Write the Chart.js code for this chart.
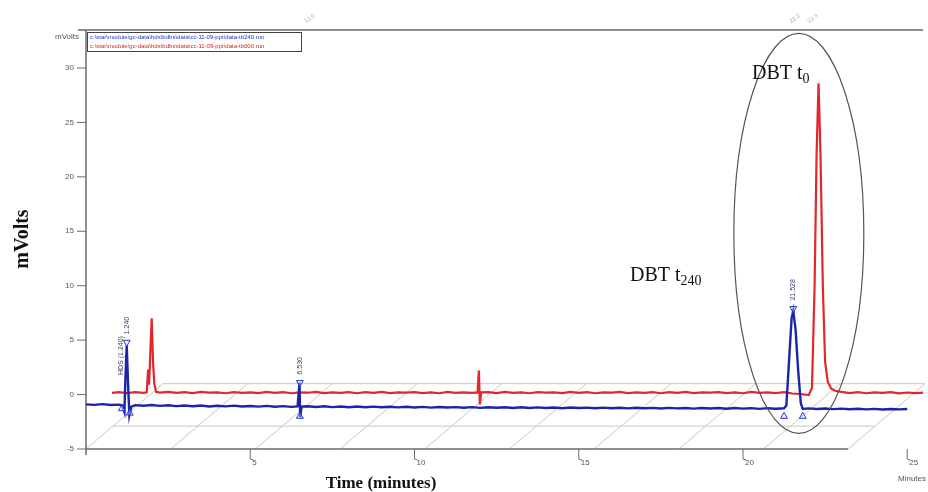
<!DOCTYPE html>
<html>
<head>
<meta charset="utf-8">
<script src="https://cdn.jsdelivr.net/npm/chart.js@4.4.1/dist/chart.umd.min.js"></script>
<style>
body { margin: 0; background: #fff; }
#wrap { width: 928px; height: 492px; position: relative; }
</style>
</head>
<body>
<div id="wrap"><canvas id="myChart"></canvas></div>
<script>
// blue trace (t240 run), time in minutes / mVolts
var blueTime = [0.00, 0.25, 0.50, 0.75, 1.00, 1.10, 1.17, 1.20, 1.24, 1.28, 1.32, 1.38,
    1.50, 1.75, 2.00, 2.25, 2.50, 2.75, 3.00, 3.25, 3.50, 3.75, 4.00, 4.25, 4.50, 4.75,
    5.00, 5.25, 5.50, 5.75, 6.00, 6.25, 6.44, 6.50, 6.52, 6.56, 6.75,
    7.00, 7.25, 7.50, 7.75, 8.00, 8.25, 8.50, 8.75, 9.00, 9.25, 9.50, 9.75,
    10.00, 10.25, 10.50, 10.75, 11.00, 11.25, 11.50, 11.75, 12.00, 12.25, 12.50, 12.75,
    13.00, 13.25, 13.50, 13.75, 14.00, 14.25, 14.50, 14.75, 15.00, 15.25, 15.50, 15.75,
    16.00, 16.25, 16.50, 16.75, 17.00, 17.25, 17.50, 17.75, 18.00, 18.25, 18.50, 18.75,
    19.00, 19.25, 19.50, 19.75, 20.00, 20.25, 20.50, 20.75, 21.00, 21.25,
    21.32, 21.40, 21.48, 21.53, 21.60, 21.68, 21.76, 21.82,
    22.00, 22.25, 22.50, 22.75, 23.00, 23.25, 23.50, 23.75, 24.00, 24.25, 24.50, 24.75, 25.00];
var blueValue = [-0.90, -0.95, -0.88, -0.96, -0.92, -0.98, -1.60, 1.50, 4.50, 1.00, -1.90, -1.10,
    -0.97, -1.03, -0.96, -1.04, -0.98, -1.06, -1.00, -1.07, -1.01, -1.09, -1.03, -1.08, -1.02, -1.10,
    -1.05, -1.11, -1.04, -1.12, -1.06, -1.13, -1.08, 1.10, -2.10, -1.10, -1.07,
    -1.14, -1.08, -1.15, -1.09, -1.16, -1.10, -1.17, -1.11, -1.16, -1.12, -1.18, -1.12,
    -1.19, -1.13, -1.20, -1.14, -1.19, -1.15, -1.21, -1.15, -1.22, -1.16, -1.21, -1.17,
    -1.23, -1.17, -1.24, -1.18, -1.23, -1.19, -1.25, -1.19, -1.24, -1.20, -1.26, -1.20,
    -1.25, -1.21, -1.27, -1.21, -1.26, -1.22, -1.28, -1.22, -1.27, -1.23, -1.29, -1.23,
    -1.28, -1.24, -1.30, -1.24, -1.29, -1.25, -1.31, -1.25, -1.30, -1.26,
    -1.00, 3.00, 7.00, 7.70, 6.00, 2.20, -0.80, -1.32,
    -1.27, -1.33, -1.28, -1.34, -1.29, -1.35, -1.30, -1.36, -1.31, -1.37, -1.32, -1.36, -1.33];

// red trace (t0 run), drawn shifted back in the 3D view
var redTime = [0.79, 1.00, 1.25, 1.50, 1.75, 1.85, 1.89, 1.92, 1.96, 2.00, 2.04, 2.08, 2.13,
    2.25, 2.50, 2.75, 3.00, 3.25, 3.50, 3.75, 4.00, 4.25, 4.50, 4.75, 5.00, 5.25, 5.50, 5.75,
    6.00, 6.25, 6.50, 6.75, 7.00, 7.25, 7.50, 7.75, 8.00, 8.25, 8.50, 8.75, 9.00, 9.25, 9.50, 9.75,
    10.00, 10.25, 10.50, 10.75, 11.00, 11.25, 11.50, 11.75,
    11.92, 11.96, 11.99, 12.03,
    12.25, 12.50, 12.75, 13.00, 13.25, 13.50, 13.75, 14.00, 14.25, 14.50, 14.75, 15.00, 15.25,
    15.50, 15.75, 16.00, 16.25, 16.50, 16.75, 17.00, 17.25, 17.50, 17.75, 18.00, 18.25, 18.50,
    18.75, 19.00, 19.25, 19.50, 19.75, 20.00, 20.25, 20.50, 20.75, 21.00, 21.25, 21.50, 21.75,
    22.00, 22.10, 22.18, 22.24, 22.30, 22.36, 22.43, 22.50, 22.58, 22.68, 22.80,
    23.00, 23.25, 23.50, 23.75, 24.00, 24.25, 24.50, 24.75, 25.00, 25.25, 25.48];
var redValue = [0.15, 0.22, 0.14, 0.23, 0.16, 0.20, 2.30, 0.90, 4.00, 7.00, 3.00, 1.00, 0.25,
    0.18, 0.25, 0.15, 0.22, 0.13, 0.24, 0.17, 0.21, 0.12, 0.23, 0.16, 0.20, 0.13, 0.24, 0.15,
    0.22, 0.12, 0.21, 0.17, 0.25, 0.14, 0.20, 0.16, 0.23, 0.12, 0.22, 0.15, 0.24, 0.13, 0.20, 0.17,
    0.23, 0.14, 0.21, 0.12, 0.24, 0.16, 0.20, 0.15,
    0.20, 2.20, -0.90, 0.20,
    0.22, 0.14, 0.25, 0.16, 0.21, 0.12, 0.23, 0.17, 0.20, 0.13, 0.24, 0.15, 0.22,
    0.12, 0.21, 0.18, 0.24, 0.14, 0.20, 0.16, 0.23, 0.12, 0.22, 0.15, 0.25, 0.13,
    0.20, 0.17, 0.23, 0.14, 0.21, 0.12, 0.24, 0.16, 0.20, 0.13, 0.22, 0.10, 0.05,
    -0.05, 0.60, 10.0, 22.0, 28.6, 22.0, 10.0, 3.00, 1.20, 0.55, 0.35,
    0.25, 0.14, 0.22, 0.12, 0.20, 0.15, 0.23, 0.11, 0.19, 0.14, 0.18];

// peak start/top/end markers on the blue run
var markerTime = [1.09, 1.24, 1.33, 6.51, 6.51, 21.25, 21.53, 21.82];
var markerValue = [-1.3, 4.8, -1.7, 1.1, -2.0, -2.0, 7.9, -2.0];
var markerRotation = [0, 180, 0, 180, 0, 0, 180, 0];

var peakTime = [1.24, 6.51, 21.53];
var peakLabel = ['1.240', '6.530', '21.528'];

var yTicks = [30, 25, 20, 15, 10, 5, 0, -5];
var xTicks = [5, 10, 15, 20, 25];

function pts(t, v) {
    return t.map(function(x, i) { return { x: x, y: v[i] }; });
}

function line(ctx, ax, ay, bx, by) {
    ctx.beginPath();
    ctx.moveTo(ax, ay);
    ctx.lineTo(bx, by);
    ctx.stroke();
}

var decor = {
    id: 'decor',
    beforeDatasetsDraw: function(chart) {
        var ctx = chart.ctx, xs = chart.scales.x, ys = chart.scales.y;
        var x0 = xs.getPixelForValue(0), x1 = xs.getPixelForValue(23.2);
        var yF = ys.getPixelForValue(-5), yB = ys.getPixelForValue(1.0), yM = ys.getPixelForValue(-2.9);
        var depth = 77;
        ctx.save();
        // 3D floor
        ctx.strokeStyle = '#c8c8c8';
        ctx.lineWidth = 1;
        for (var k = 0; k <= 9; k++) {
            var fx = x0 + (x1 - x0) * k / 9;
            line(ctx, fx, yF, fx + depth, yB);
        }
        line(ctx, x0 + depth, yB, x1 + depth, yB);
        var f = (yF - yM) / (yF - yB);
        line(ctx, x0 + depth * f, yM, x1 + depth * f, yM);

        // axes
        ctx.strokeStyle = '#6a6a6a';
        ctx.lineWidth = 1.5;
        var top = chart.chartArea.top;
        line(ctx, x0, top, x0, yF + 6);
        line(ctx, x0 - 8, top, chart.chartArea.right, top);
        line(ctx, x0, yF, x1, yF);

        ctx.lineWidth = 1;
        ctx.fillStyle = '#555';
        ctx.font = '8px "Liberation Sans"';
        ctx.textAlign = 'right';
        ctx.textBaseline = 'middle';
        yTicks.forEach(function(v) {
            var py = ys.getPixelForValue(v);
            line(ctx, x0 - 9, py, x0, py);
            ctx.fillText(String(v), x0 - 12, py);
        });
        ctx.textAlign = 'left';
        ctx.textBaseline = 'top';
        xTicks.forEach(function(v) {
            var px = xs.getPixelForValue(v);
            ctx.beginPath();
            ctx.moveTo(px, yF);
            ctx.lineTo(px, yF + 10);
            ctx.lineTo(px + 3, yF + 11);
            ctx.stroke();
            ctx.fillText(String(v), px + 2, yF + 10);
        });
        ctx.restore();
    },
    afterDatasetsDraw: function(chart) {
        var ctx = chart.ctx, xs = chart.scales.x, ys = chart.scales.y;
        ctx.save();

        // peak labels, rotated
        ctx.fillStyle = '#3a3a6a';
        ctx.font = '7px "Liberation Sans"';
        ctx.textAlign = 'left';
        ctx.textBaseline = 'middle';
        peakTime.forEach(function(t, i) {
            var px = xs.getPixelForValue(t);
            var py = ys.getPixelForValue(markerValue[[1, 3, 6][i]]) - 8;
            ctx.save();
            ctx.translate(px, py);
            ctx.rotate(-Math.PI / 2);
            ctx.fillText(peakLabel[i], 0, 0);
            ctx.restore();
        });
        ctx.save();
        ctx.translate(xs.getPixelForValue(1.07), ys.getPixelForValue(1.8));
        ctx.rotate(-Math.PI / 2);
        ctx.fillText('HDS (1.240)', 0, 0);
        ctx.restore();

        // faint labels above the frame
        ctx.fillStyle = '#b0b0b0';
        ctx.font = '6px "Liberation Sans"';
        [[305, '12.0'], [790, '22.2'], [808, '22.3']].forEach(function(p) {
            ctx.save();
            ctx.translate(p[0], 22);
            ctx.rotate(-Math.PI / 5);
            ctx.fillText(p[1], 0, 0);
            ctx.restore();
        });

        // oval round the DBT peaks
        ctx.strokeStyle = '#555';
        ctx.lineWidth = 1.2;
        ctx.beginPath();
        ctx.ellipse(xs.getPixelForValue(21.7), ys.getPixelForValue(14.8), 65, 200, 0, 0, Math.PI * 2);
        ctx.stroke();

        // DBT texts
        ctx.fillStyle = '#111';
        ctx.textAlign = 'left';
        ctx.textBaseline = 'alphabetic';
        ctx.font = '20px "Liberation Serif"';
        ctx.fillText('DBT t', 752, 79);
        var w = ctx.measureText('DBT t').width;
        ctx.font = '14px "Liberation Serif"';
        ctx.fillText('0', 752 + w, 83);
        ctx.font = '20px "Liberation Serif"';
        ctx.fillText('DBT t', 630, 281);
        ctx.font = '14px "Liberation Serif"';
        ctx.fillText('240', 630 + w, 285);

        // legend box
        ctx.strokeStyle = '#444';
        ctx.lineWidth = 1;
        ctx.strokeRect(87.5, 32.5, 214, 19);
        ctx.font = '6px "Liberation Sans"';
        ctx.textBaseline = 'middle';
        ctx.fillStyle = '#2233cc';
        ctx.fillText('c:\\star\\module\\gc-data\\hds\\bdbs\\data\\cc-11-09-ppt\\data-tb240.run', 90, 37.5, 208);
        ctx.fillStyle = '#dd2222';
        ctx.fillText('c:\\star\\module\\gc-data\\hds\\bdbs\\data\\cc-11-09-ppt\\data-tb000.run', 90, 46, 208);

        // axis titles
        ctx.fillStyle = '#555';
        ctx.font = '8px "Liberation Sans"';
        ctx.textAlign = 'right';
        ctx.fillText('mVolts', 79, 37);
        ctx.textAlign = 'left';
        ctx.fillText('Minutes', 898, 479);

        ctx.fillStyle = '#111';
        ctx.textAlign = 'center';
        ctx.textBaseline = 'alphabetic';
        ctx.font = 'bold 17px "Liberation Serif"';
        ctx.fillText('Time (minutes)', 381, 488);
        ctx.save();
        ctx.translate(28, 239);
        ctx.rotate(-Math.PI / 2);
        ctx.font = 'bold 20px "Liberation Serif"';
        ctx.fillText('mVolts', 0, 0);
        ctx.restore();

        ctx.restore();
    }
};

var ctx = document.getElementById('myChart').getContext('2d');

var myChart = new Chart(ctx, {
    type: 'line',
    data: {
        datasets: [{
            type: 'scatter',
            label: 'markers',
            data: pts(markerTime, markerValue),
            pointStyle: 'triangle',
            pointRadius: 4,
            pointRotation: markerRotation,
            borderColor: '#2a3ad0',
            backgroundColor: 'rgba(200,210,255,0.4)',
            borderWidth: 1,
            showLine: false
        }, {
            label: 't240',
            data: pts(blueTime, blueValue),
            borderColor: '#1c24a8',
            borderWidth: 2.4,
            pointRadius: 0,
            tension: 0
        }, {
            label: 't0',
            data: pts(redTime, redValue),
            borderColor: '#e2262a',
            borderWidth: 2.2,
            pointRadius: 0,
            tension: 0
        }]
    },
    options: {
        responsive: true,
        maintainAspectRatio: false,
        animation: false,
        layout: { padding: { left: 86, right: 0, top: 30, bottom: 43 } },
        scales: {
            x: { type: 'linear', min: 0, max: 25.48, display: false },
            y: { min: -5, max: 33.49, display: false }
        },
        plugins: {
            legend: { display: false },
            tooltip: { enabled: false }
        }
    },
    plugins: [decor]
});
</script>
</body>
</html>
